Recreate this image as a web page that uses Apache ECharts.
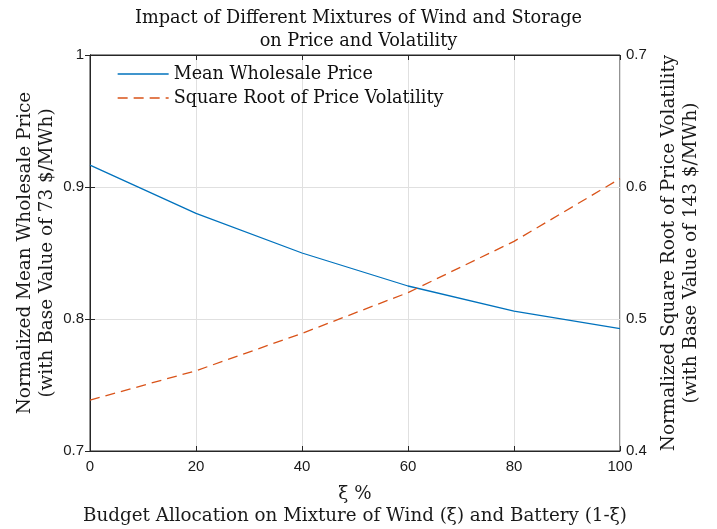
<!DOCTYPE html>
<html><head><meta charset="utf-8">
<script src="https://cdn.jsdelivr.net/npm/echarts@6/dist/echarts.min.js"></script>
<style>html,body{margin:0;padding:0;background:#fff}#c{width:717px;height:529px}</style>
</head><body><div id="c"></div>
<script>
const xi = [0, 20, 40, 60, 80, 100];
const meanPrice = [0.9166, 0.880, 0.850, 0.825, 0.806, 0.7927];
const sqrtVolatility = [0.4386, 0.4608, 0.4891, 0.520, 0.5588, 0.6063];
const xTicks = [0, 20, 40, 60, 80, 100];
const serif = 'DejaVu Serif';
const sans = 'Liberation Sans';
const chart = echarts.init(document.getElementById('c'));
chart.setOption({
  backgroundColor: '#fff',
  animation: false,
  title: {
    text: 'Impact of Different Mixtures of Wind and Storage\non Price and Volatility',
    left: 'center', top: 2,
    textStyle: {fontFamily: serif, fontWeight: 'normal', fontSize: 17.7, lineHeight: 23, color: '#111'}
  },
  legend: {
    orient: 'vertical', left: 112, top: 60, itemWidth: 51, itemHeight: 12, itemGap: 6,
    itemStyle: {opacity: 0},
    lineStyle: {width: 1.3},
    textStyle: {fontFamily: serif, fontSize: 17.6, color: '#111'},
    data: ['Mean Wholesale Price', 'Square Root of Price Volatility']
  },
  grid: {left: 90, right: 97, top: 55, bottom: 78, outerBoundsMode: 'none', containLabel: false,
    show: true, borderColor: '#262626', borderWidth: 1},
  xAxis: [{
    type: 'value', min: 0, max: 100, interval: 20, position: 'bottom',
    axisLine: {lineStyle: {color: '#262626'}},
    axisTick: {inside: true, length: 5, lineStyle: {color: '#262626'}},
    axisLabel: {fontFamily: sans, fontSize: 15, color: '#1a1a1a', margin: 8,
      formatter: v => xTicks.includes(v) ? String(v) : ''},
    splitLine: {show: true, lineStyle: {color: '#e0e0e0'}},
    name: 'ξ %\nBudget Allocation on Mixture of Wind (ξ) and Battery (1-ξ)',
    nameLocation: 'middle', nameGap: 32, nameMoveOverlap: false,
    nameTextStyle: {fontFamily: serif, fontSize: 18.3, lineHeight: 22, color: '#1a1a1a'}
  }, {
    type: 'value', min: 0, max: 100, interval: 20, position: 'top',
    axisLine: {lineStyle: {color: '#262626'}},
    axisTick: {inside: true, length: 5, lineStyle: {color: '#262626'}},
    axisLabel: {show: false}, splitLine: {show: false}
  }],
  yAxis: [{
    type: 'value', min: 0.7, max: 1, interval: 0.1, position: 'left',
    axisLine: {show: true, lineStyle: {color: '#262626'}},
    axisTick: {show: true, inside: true, length: 5, lineStyle: {color: '#262626'}},
    axisLabel: {fontFamily: sans, fontSize: 15, color: '#1a1a1a', margin: 6,
      formatter: v => (Math.round(v * 10) / 10).toString()},
    splitLine: {show: true, lineStyle: {color: '#e0e0e0'}},
    name: 'Normalized Mean Wholesale Price\n(with Base Value of 73 $/MWh)',
    nameLocation: 'middle', nameRotate: 90, nameGap: 32, nameMoveOverlap: false,
    nameTextStyle: {fontFamily: serif, fontSize: 18.4, lineHeight: 22, color: '#1a1a1a'}
  }, {
    type: 'value', min: 0.4, max: 0.7, interval: 0.1, position: 'right',
    axisLine: {show: true, lineStyle: {color: '#262626'}},
    axisTick: {show: true, inside: true, length: 5, lineStyle: {color: '#262626'}},
    axisLabel: {fontFamily: sans, fontSize: 15, color: '#1a1a1a', margin: 6,
      formatter: v => (Math.round(v * 10) / 10).toString()},
    splitLine: {show: false},
    name: 'Normalized Square Root of Price Volatility\n(with Base Value of 143 $/MWh)',
    nameLocation: 'middle', nameRotate: 90, nameGap: 38, nameMoveOverlap: false,
    nameTextStyle: {fontFamily: serif, fontSize: 18.4, lineHeight: 22, color: '#1a1a1a'}
  }],
  series: [{
    name: 'Mean Wholesale Price', type: 'line', xAxisIndex: 0, yAxisIndex: 0,
    data: xi.map((x, i) => [x, meanPrice[i]]),
    symbol: 'none', color: '#0072BD', lineStyle: {width: 1.3, color: '#0072BD'}
  }, {
    name: 'Square Root of Price Volatility', type: 'line', xAxisIndex: 0, yAxisIndex: 1,
    data: xi.map((x, i) => [x, sqrtVolatility[i]]),
    symbol: 'none', color: '#D95319', lineStyle: {width: 1.3, color: '#D95319', type: [10, 6]}
  }]
});
</script></body></html>
